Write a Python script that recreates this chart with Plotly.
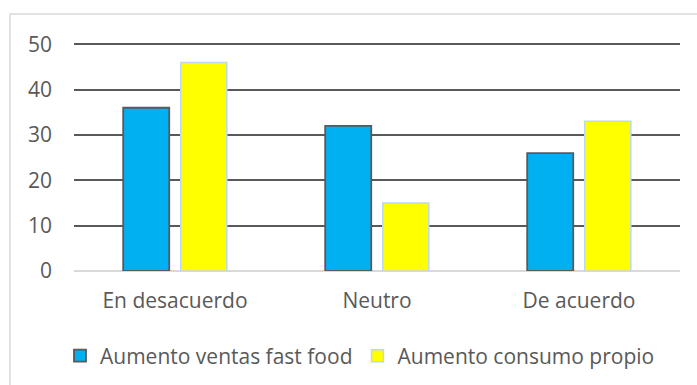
import plotly.graph_objects as go

# Survey responses per opinion category
categories = ["En desacuerdo", "Neutro", "De acuerdo"]
ventas_fast_food = [36, 32, 26]
consumo_propio = [46, 15, 33]
series_names = ["Aumento ventas fast food", "Aumento consumo propio"]
y_ticks = [0, 10, 20, 30, 40, 50]

TEXT = "#595959"
FONT = "Open Sans"
FS = 21

fig = go.Figure()
fig.add_trace(go.Bar(
    x=categories, y=ventas_fast_food, name=series_names[0],
    marker=dict(color="#00B0F0", line=dict(color="#595959", width=1.8)),
))
fig.add_trace(go.Bar(
    x=categories, y=consumo_propio, name=series_names[1],
    marker=dict(color="#FFFF00", line=dict(color="#BDD7EE", width=1.5)),
))

W, H = 697, 385
L, R, T, B = 74, 17, 42, 114
pw, ph = W - L - R, H - T - B

def px_x(x):
    return (x - L) / pw

def px_y(y):
    return (H - B - y) / ph

fig.update_layout(
    width=W, height=H,
    margin=dict(l=L, r=R, t=T, b=B, pad=0, autoexpand=False),
    paper_bgcolor="white", plot_bgcolor="white",
    barmode="group", bargap=0.43, bargroupgap=0.2,
    font=dict(family=FONT, size=FS, color=TEXT),
    showlegend=True,
    legend=dict(
        orientation="h", x=px_x(360), y=px_y(356),
        xanchor="center", yanchor="middle",
        font=dict(family=FONT, size=FS, color=TEXT),
        itemwidth=30, traceorder="normal",
    ),
    xaxis=dict(
        automargin=False,
        showgrid=False, showline=False, ticks="",
        ticklabelstandoff=15,
        tickfont=dict(family=FONT, size=FS, color=TEXT),
    ),
    yaxis=dict(
        automargin=False,
        range=[0, 50.5], tickvals=y_ticks,
        showgrid=True, gridcolor="#595959", gridwidth=1.6,
        zeroline=True, zerolinecolor="#D9D9D9", zerolinewidth=1.6,
        showline=False, ticks="",
        ticklabelstandoff=21,
        tickfont=dict(family=FONT, size=FS, color=TEXT),
    ),
    shapes=[dict(
        type="rect", xref="paper", yref="paper",
        x0=px_x(10), x1=px_x(698), y0=px_y(387), y1=px_y(14),
        line=dict(color="#D9D9D9", width=1.5), fillcolor="rgba(0,0,0,0)",
        layer="below",
    )],
)

fig.write_html("out.html")
